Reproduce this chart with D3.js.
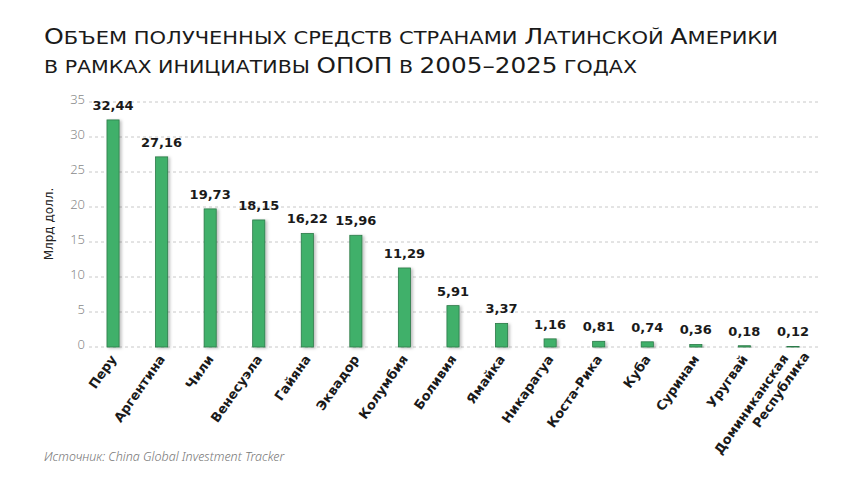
<!DOCTYPE html>
<html>
<head>
<meta charset="utf-8">
<script src="https://cdn.jsdelivr.net/npm/d3@7"></script>
<style>
  body { margin: 0; background: #fff; }
  svg { font-family: "DejaVu Sans", sans-serif; }
</style>
</head>
<body>
<script>
// data
var countries = ["Перу", "Аргентина", "Чили", "Венесуэла", "Гайяна", "Эквадор", "Колумбия",
    "Боливия", "Ямайка", "Никарагуа", "Коста-Рика", "Куба", "Суринам", "Уругвай",
    "Доминиканская Республика"];
var values = [32.44, 27.16, 19.73, 18.15, 16.22, 15.96, 11.29, 5.91, 3.37, 1.16, 0.81, 0.74, 0.36, 0.18, 0.12];
var yTicks = [0, 5, 10, 15, 20, 25, 30, 35];

var width = 860, height = 484;
var svg = d3.select("body").append("svg")
    .attr("width", width)
    .attr("height", height);

var defs = svg.append("defs");
var f = defs.append("filter").attr("id", "shadow")
    .attr("x", "-50%").attr("y", "-10%").attr("width", "200%").attr("height", "130%");
f.append("feDropShadow").attr("dx", 2).attr("dy", 1).attr("stdDeviation", 1.5)
    .attr("flood-color", "#000").attr("flood-opacity", 0.25);

// title, faked small caps: big letters bigger
function smallCaps(sel, str, yPos, len) {
    var t = sel.append("text")
        .attr("x", 44).attr("y", yPos)
        .attr("fill", "#1a1a1a")
        .attr("textLength", len)
        .attr("lengthAdjust", "spacingAndGlyphs");
    // split into runs of upper / lower
    var runs = str.match(/([А-ЯЁA-Z0-9–]+|[^А-ЯЁA-Z0-9–]+)/g);
    runs.forEach(function (r) {
        var upper = /[А-ЯЁA-Z0-9–]/.test(r[0]);
        t.append("tspan")
            .attr("font-size", upper ? 21 : 17.5)
            .text(r.toUpperCase());
    });
}
smallCaps(svg, "Объем полученных средств странами Латинской Америки", 44, 734);
smallCaps(svg, "в рамках инициативы ОПОП в 2005–2025 годах", 73, 593);

var x = d3.scaleBand()
    .domain(countries)
    .range([89, 817])
    .paddingInner(0.75)
    .paddingOuter(0.37);

var y = d3.scaleLinear()
    .domain([0, 35])
    .range([347, 102]);

// grid
svg.append("g").selectAll("line")
    .data(yTicks)
    .enter().append("line")
    .attr("x1", 89).attr("x2", 818)
    .attr("y1", d => y(d)).attr("y2", d => y(d))
    .attr("stroke", "#c8c8c8")
    .attr("stroke-dasharray", "3,3");

var yAxis = d3.axisLeft(y).tickValues(yTicks).tickSize(0).tickPadding(0);
var ya = svg.append("g").attr("transform", "translate(85,-3)").call(yAxis);
ya.select(".domain").remove();
ya.selectAll("text")
    .attr("font-family", "Noto Sans")
    .attr("font-size", 13)
    .attr("font-weight", 300)
    .attr("fill", "#8a8a8a");

svg.append("text")
    .attr("transform", "translate(53,224) rotate(-90)")
    .attr("text-anchor", "middle")
    .attr("font-size", 12)
    .attr("fill", "#222")
    .text("Млрд долл.");

// bars
svg.append("g").selectAll("rect")
    .data(values)
    .enter().append("rect")
    .attr("x", (d, i) => x(countries[i]))
    .attr("y", d => y(d))
    .attr("width", x.bandwidth())
    .attr("height", d => y(0) - y(d))
    .attr("fill", "#41b06a")
    .attr("stroke", "#2b7a48")
    .attr("stroke-width", 0.8)
    .attr("filter", "url(#shadow)");

// value labels
svg.append("g").selectAll("text")
    .data(values)
    .enter().append("text")
    .attr("x", (d, i) => x(countries[i]) + x.bandwidth() / 2)
    .attr("y", d => y(d) - 10)
    .attr("text-anchor", "middle")
    .attr("font-size", 13)
    .attr("font-weight", 700)
    .attr("fill", "#1a1a1a")
    .text(d => d.toFixed(2).replace(".", ","));

// x labels
var xl = svg.append("g").selectAll("text")
    .data(countries)
    .enter().append("text")
    .attr("transform", d => "translate(" + (x(d) + x.bandwidth() / 2 + 4) + ",359) rotate(-55)")
    .attr("text-anchor", "end")
    .attr("font-size", 13)
    .attr("font-weight", 700)
    .attr("fill", "#1a1a1a");
xl.each(function (d) {
    var parts = d.split(" ");
    var t = d3.select(this);
    if (parts.length > 1) {
        t.append("tspan").attr("x", -4).attr("dy", -7).text(parts[0]);
        t.append("tspan").attr("x", 10).attr("dy", 16).text(parts[1]);
    } else {
        t.text(d);
    }
});

// source
svg.append("text")
    .attr("x", 44).attr("y", 461)
    .attr("font-family", "Noto Sans")
    .attr("font-size", 12.5)
    .attr("font-style", "italic")
    .attr("font-weight", 300)
    .attr("fill", "#777")
    .text("Источник: China Global Investment Tracker");
</script>
</body>
</html>
